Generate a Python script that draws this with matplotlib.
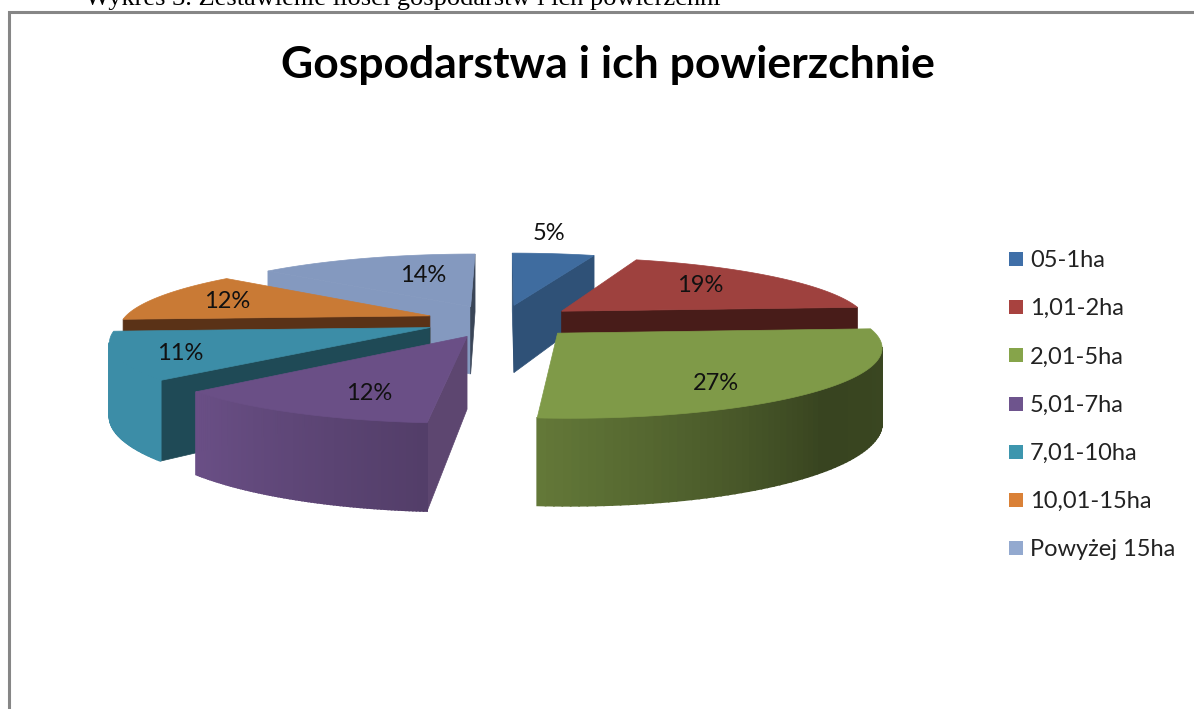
import numpy as np
import matplotlib
matplotlib.use("Agg")
import matplotlib.pyplot as plt
from matplotlib.patches import Polygon, Rectangle

title = "Gospodarstwa i ich powierzchnie"
caption = "Wykres 3. Zestawienie ilości gospodarstw i ich powierzchni"
categories = ["05-1ha", "1,01-2ha", "2,01-5ha", "5,01-7ha", "7,01-10ha", "10,01-15ha", "Powyżej 15ha"]
# the labels round them
shares = [5.17, 18.83, 27.33, 11.72, 11.11, 11.94, 13.9]

# colours as they look in the picture
legend_colors = ["#3F6FA8", "#A8423F", "#86A44A", "#6E548D", "#3D96AE", "#DA8137", "#93A9CF"]
top_colors = ["#3F6C9F", "#9E413E", "#7F9A48", "#6A4F86", "#3C8DA7", "#C97A35", "#8499BF"]
cut_colors = ["#2F5177", "#481C19", "#3A451F", "#5D4670", "#1F4A56", "#5A3217", "#3A4557"]
end_colors = ["#2F5177", "#481C19", "#5E7034", "#5D4670", "#1F4A56", "#5A3217", "#8499BF"]
label_pos = [(549, 233), (700, 286), (716, 383), (369, 393), (180, 353), (227, 302), (423, 275)]
draw_order = [6, 0, 5, 1, 4, 3, 2]

# 3d pie camera
cx, cy = 502, 321
rad_x, rad_y = 308, 66
persp = 0.17
explode = 0.25
depth = 70


def project(u, v, z=0.0):
    scale = 1.0 / (1.0 - persp * v)
    return cx + rad_x * u * scale, cy + (rad_y * v + depth * z) * scale


def is_front(quad):
    # y runs downwards, so a wall seen from outside has negative area
    xs = [p[0] for p in quad]
    ys = [p[1] for p in quad]
    area = 0.0
    for i in range(len(quad)):
        j = (i + 1) % len(quad)
        area += xs[i] * ys[j] - xs[j] * ys[i]
    return area < 0


def wall_shade(theta):
    return np.interp(theta, [86, 135, 183, 227, 270], [0.47, 0.44, 0.77, 1.0, 1.0])


def draw_slice(ax, start, stop, top_c, cut_c, end_c):
    mid = np.radians((start + stop) / 2)
    ou, ov = explode * np.sin(mid), -explode * np.cos(mid)
    thetas = np.linspace(start, stop, 80)
    rim = [(ou + np.sin(np.radians(t)), ov - np.cos(np.radians(t))) for t in thetas]
    apex = (ou, ov)

    def quad(a, b):
        return [project(a[0], a[1]), project(b[0], b[1]), project(b[0], b[1], 1), project(a[0], a[1], 1)]

    # cut faces
    q = quad(apex, rim[0])
    if is_front(q):
        ax.add_patch(Polygon(q, fc=end_c, ec=end_c, lw=0.5))
    q = quad(rim[-1], apex)
    if is_front(q):
        ax.add_patch(Polygon(q, fc=cut_c, ec=cut_c, lw=0.5))
    # outer wall, strip by strip for the shading
    base = np.array(matplotlib.colors.to_rgb(top_c))
    for i in range(len(rim) - 1):
        q = quad(rim[i], rim[i + 1])
        if is_front(q):
            c = base * wall_shade((thetas[i] + thetas[i + 1]) / 2)
            ax.add_patch(Polygon(q, fc=c, ec=c, lw=1.2))
    # top
    pts = [project(apex[0], apex[1])] + [project(a, b) for a, b in rim]
    ax.add_patch(Polygon(pts, fc=top_c, ec=top_c, lw=0.5))


fig = plt.figure(figsize=(11.94, 7.09), dpi=100)
ax = fig.add_axes([0, 0, 1, 1])
ax.set_xlim(0, 1194)
ax.set_ylim(709, 0)
ax.axis("off")

# chart frame, cut by the page on the right and at the bottom
ax.plot([8.5, 8.5, 1194], [709, 11.5, 11.5], color="#868686", lw=2.2, solid_joinstyle="miter")
ax.text(85, 5, caption, family="Liberation Serif", fontsize=19, color="black", va="baseline")
ax.text(608, 65, title, family="Lato", fontweight="bold", fontsize=32, color="black", ha="center", va="center")

edges = np.cumsum([0] + shares) * 3.6
for i in draw_order:
    draw_slice(ax, edges[i], edges[i + 1], top_colors[i], cut_colors[i], end_colors[i])

for i in range(len(shares)):
    ax.text(label_pos[i][0], label_pos[i][1], "%.0f%%" % shares[i], family="Lato", fontsize=17,
            color="#111111", ha="center", va="center")
    y = 259 + i * 48.2
    ax.add_patch(Rectangle((1009, y - 7), 14, 14, fc=legend_colors[i], ec="none"))
    ax.text(1030, y + 1.5, categories[i], family="Lato", fontsize=17, color="#222222", va="center")

fig.savefig("out.png", dpi=100)
